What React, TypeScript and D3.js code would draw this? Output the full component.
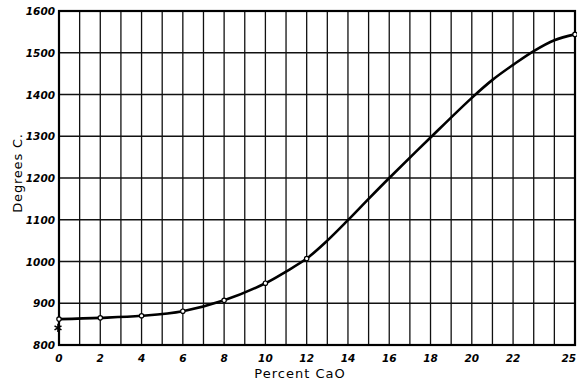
import React from "react";
import * as d3 from "d3";

// Liquidus temperature vs. lime content
const percentCaO = [0, 2, 4, 6, 8, 10, 11, 12, 13, 14, 15, 16, 18, 20, 21, 22, 23, 24, 25];
const degreesC = [862, 865, 870, 881, 907, 948, 976, 1007, 1050, 1099, 1150, 1200, 1297, 1392, 1435, 1471, 1504, 1530, 1544];
const markedX = [0, 2, 4, 6, 8, 10, 12, 25];
const starPoint = { x: 0, y: 841 };
const xTickLabels = [0, 2, 4, 6, 8, 10, 12, 14, 16, 18, 20, 22, 25];
const yTickLabels = [800, 900, 1000, 1100, 1200, 1300, 1400, 1500, 1600];

const W = 577;
const H = 385;
const margin = { left: 59, right: 2, top: 11, bottom: 40 };

export default function App() {
  const x = d3.scaleLinear().domain([0, 25]).range([margin.left, W - margin.right]);
  const y = d3.scaleLinear().domain([800, 1600]).range([H - margin.bottom, margin.top]);
  const pts: [number, number][] = percentCaO.map((v, i) => [v, degreesC[i]]);
  const line = d3
    .line<[number, number]>()
    .x((d) => x(d[0]))
    .y((d) => y(d[1]))
    .curve(d3.curveCatmullRom.alpha(0.5));
  const vLines = d3.range(1, 25);
  const hLines = yTickLabels.slice(1, -1);
  const lookup = new Map(percentCaO.map((v, i) => [v, degreesC[i]]));
  const numFont = { fontFamily: "DejaVu Sans", fontStyle: "italic", fontWeight: 700, fontSize: 10.5 } as const;
  const star = d3.symbol(d3.symbolAsterisk, 45)() || "";

  return (
    <svg width={W} height={H} style={{ position: "absolute", left: 0, top: 0, background: "#fff" }}>
      <rect width={W} height={H} fill="#fff" />
      {vLines.map((v) => (
        <line key={"v" + v} x1={x(v)} x2={x(v)} y1={y(800)} y2={y(1600)} stroke="#111" strokeWidth={1.3} />
      ))}
      {hLines.map((v) => (
        <line key={"h" + v} x1={x(0)} x2={x(25)} y1={y(v)} y2={y(v)} stroke="#111" strokeWidth={1.4} />
      ))}
      <rect x={x(0)} y={y(1600)} width={x(25) - x(0)} height={y(800) - y(1600)} fill="none" stroke="#000" strokeWidth={2.2} />
      <path d={line(pts) || ""} fill="none" stroke="#000" strokeWidth={2.6} strokeLinejoin="round" />
      {markedX.map((v) => (
        <circle key={"c" + v} cx={x(v)} cy={y(lookup.get(v) as number)} r={2.2} fill="#fff" stroke="#000" strokeWidth={1.2} />
      ))}
      <path d={star} transform={`translate(${x(starPoint.x) - 1},${y(starPoint.y)})`} fill="none" stroke="#000" strokeWidth={1.6} />
      {yTickLabels.map((v) => (
        <text key={"yl" + v} x={x(0) - 4} y={y(v) + 4} textAnchor="end" style={numFont}>
          {v}
        </text>
      ))}
      {xTickLabels.map((v) => (
        <text
          key={"xl" + v}
          x={v === 25 ? W - 1 : x(v)}
          y={y(800) + 17}
          textAnchor={v === 25 ? "end" : "middle"}
          style={numFont}
        >
          {v}
        </text>
      ))}
      <text x={300} y={378} textAnchor="middle" fontFamily="DejaVu Sans" fontSize={13} letterSpacing={1}>
        Percent CaO
      </text>
      <text
        transform={`translate(${22},${173}) rotate(-90)`}
        textAnchor="middle"
        fontFamily="DejaVu Sans"
        fontSize={13}
        letterSpacing={0.8}
      >
        Degrees C.
      </text>
    </svg>
  );
}
